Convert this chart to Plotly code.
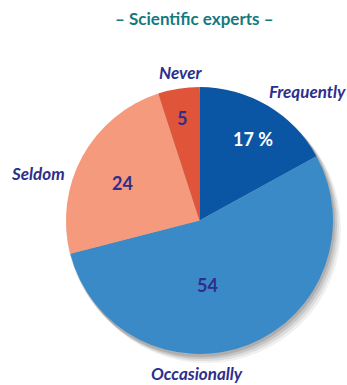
import plotly.graph_objects as go

labels = ["Frequently", "Occasionally", "Seldom", "Never"]
values = [17, 54, 24, 5]
inside_text = ["17 %", "54", "24", "5"]
colors = ["#0a55a4", "#3b8ac8", "#f59a7c", "#e0553a"]
text_colors = ["#ffffff", "#2e2e8c", "#2e2e8c", "#2e2e8c"]

W, H = 347, 385
cx, cy, r = 199.5, 220.5, 133.5

def dom(cx, cy, r):
    return dict(x=[(cx - r) / W, (cx + r) / W], y=[(H - cy - r) / H, (H - cy + r) / H])

fig = go.Figure()
# soft shadow layers
for dx, dy, op in [(7, 8, 0.06), (5, 6, 0.08), (3, 4, 0.10), (1, 2, 0.12)]:
    fig.add_trace(go.Pie(values=[1], marker=dict(colors=["rgba(0,0,0,%g)" % op], line=dict(width=0)),
                         textinfo="none", hoverinfo="skip", showlegend=False, sort=False,
                         domain=dom(cx + dx, cy + dy, r + 1)))

fig.add_trace(go.Pie(
    labels=labels, values=values, sort=False, direction="clockwise", rotation=0,
    marker=dict(colors=colors, line=dict(width=0)),
    textinfo="none", showlegend=False, domain=dom(cx, cy, r),
))

# inside value labels
inside_pos = [(253, 139), (207, 285), (122, 183), (182, 118)]
for t, c, (x, y) in zip(inside_text, text_colors, inside_pos):
    fig.add_annotation(x=x / W, y=1 - y / H, xref="paper", yref="paper", text=t, showarrow=False,
                       font=dict(family="Lato", size=18, color=c, weight="bold"),
                       xanchor="center", yanchor="middle")

label_font = dict(family="Lato", size=17, color="#2e2e8c", weight="bold", style="italic")
label_pos = [(307, 92), (197, 373), (38, 174), (180, 72)]
for name, (x, y) in zip(labels, label_pos):
    fig.add_annotation(x=x / W, y=1 - y / H, xref="paper", yref="paper", text=name,
                       showarrow=False, font=label_font, xanchor="center", yanchor="middle")

fig.add_annotation(x=194 / W, y=1 - 18 / H, xref="paper", yref="paper", text="– Scientific experts –",
                   showarrow=False, font=dict(family="Lato", size=17, color="#137a80", weight="bold"),
                   xanchor="center", yanchor="middle")

fig.update_layout(width=W, height=H, margin=dict(l=0, r=0, t=0, b=0),
                  paper_bgcolor="white", plot_bgcolor="white")
fig.write_html("out.html")
